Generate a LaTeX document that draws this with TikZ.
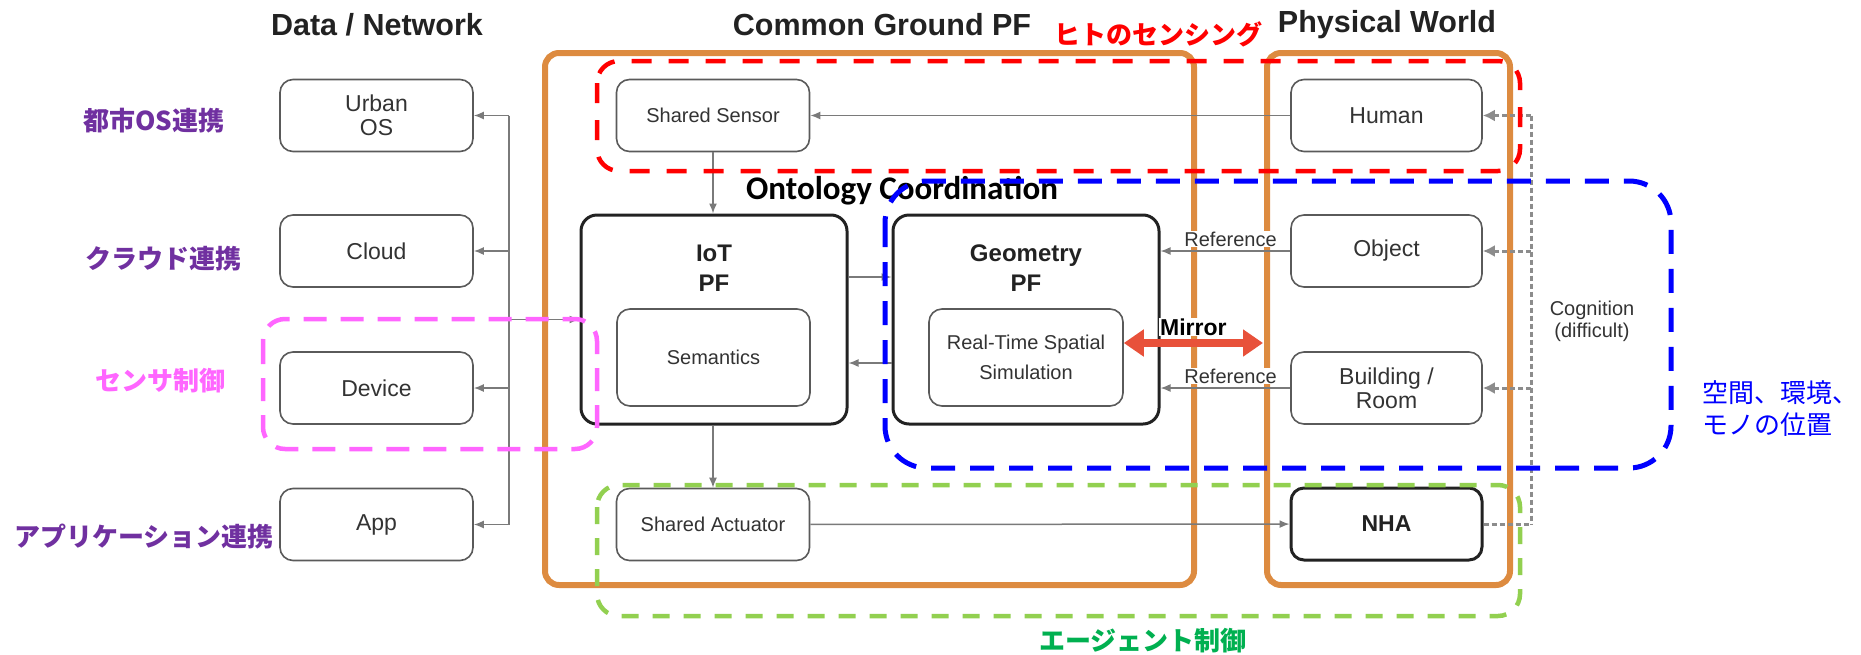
\documentclass[tikz,border=0pt]{standalone}
\usepackage{fontspec}
\setmainfont{Liberation Sans}
\newfontfamily\jpfont{Noto Sans CJK JP}
\newfontfamily\calfont{Carlito}
\usetikzlibrary{arrows.meta}
\newcommand\fsz[2]{\fontsize{#1pt}{#2pt}\selectfont}

\definecolor{boxline}{HTML}{5A5A5A}
\definecolor{boxtext}{HTML}{333333}
\definecolor{pfline}{HTML}{222222}
\definecolor{headtext}{HTML}{222222}
\definecolor{arrgray}{HTML}{7A7A7A}
\definecolor{cogray}{HTML}{8C8C8C}
\definecolor{cgorange}{HTML}{DD8B40}
\definecolor{mirred}{HTML}{E8513A}
\definecolor{grpred}{HTML}{FF0000}
\definecolor{grpblue}{HTML}{0000FF}
\definecolor{grpgreen}{HTML}{92D050}
\definecolor{grppink}{HTML}{FF66FF}
\definecolor{lblpurple}{HTML}{7030A0}
\definecolor{lblgreen}{HTML}{00B050}

\begin{document}
\begin{tikzpicture}[x=1pt,y=-1pt,
  box/.style={draw=boxline, line width=1.6pt, rounded corners=13pt, fill=white,
    text=boxtext, align=center, inner sep=0pt, minimum width=193pt,
    minimum height=72pt, font=\fsz{23}{24}},
  sbox/.style={box, font=\fsz{20}{30}},
  pfbox/.style={draw=pfline, line width=3pt, rounded corners=16pt, fill=white,
    inner sep=0pt, minimum width=266pt, minimum height=209pt},
  pftitle/.style={align=center, text=pfline, font=\bfseries\fsz{24}{30}, inner sep=0pt},
  nhabox/.style={box, draw=pfline, line width=3pt, text=pfline, font=\bfseries\fsz{23}{24}},
  head/.style={text=headtext, font=\bfseries\fsz{30.5}{32}, inner sep=0pt},
  arr/.style={draw=arrgray, line width=1.5pt, -{Latex[length=10pt,width=8pt]}},
  busline/.style={draw=arrgray, line width=1.5pt},
  cog/.style={draw=cogray, line width=3pt, dash pattern=on 5pt off 3pt},
  cogarr/.style={cog, -{Latex[length=12pt,width=12pt]}},
  reflbl/.style={fill=white, inner sep=1pt, text=boxtext, font=\fsz{20}{22}},
  mirror/.style={draw=mirred, line width=8pt,
    {Triangle[length=20pt,width=26pt]}-{Triangle[length=20pt,width=26pt]}},
  mirlbl/.style={fill=white, inner sep=1pt, text=black, font=\bfseries\fsz{23}{24}},
  orangebox/.style={draw=cgorange, line width=6pt, rounded corners=14pt},
  grp/.style={line width=4.5pt, rounded corners=22pt},
  jplbl/.style={inner sep=0pt, font=\jpfont\bfseries\fsz{26}{28}},
]
\useasboundingbox (0,0) rectangle (1861,654);

% column headings
\node[head] (hdata) at (377,25) {Data / Network};
\node[head] (hcg) at (882,25) {Common Ground PF};
\node[head] (hpw) at (1387,25) {Physical World};

% platform frames
\draw[orangebox] (545,53) rectangle (1194,585);
\draw[orangebox] (1267,53) rectangle (1510,585);

% data / network side
\node[box] (urban) at (376.5,115.5) {Urban\\OS};
\node[box] (cloud) at (376.5,251) {Cloud};
\node[box] (device) at (376.5,388) {Device};
\node[box] (app) at (376.5,524.5) {App};

% common ground platform
\node[sbox] (sensor) at (713,115.5) {Shared Sensor};
\node[sbox] (actuator) at (713,524.5) {Shared Actuator};
\node[pfbox] (iot) at (714,319.5) {};
\node[pftitle] (iott) at (714,268) {IoT\\PF};
\node[sbox, minimum height=97pt] (sem) at (713.5,357.5) {Semantics};
\node[pfbox] (geo) at (1026,319.5) {};
\node[pftitle] (geot) at (1026,268) {Geometry\\PF};
\node[sbox, minimum width=194pt, minimum height=97pt] (rt) at (1026,357.5) {Real-Time Spatial\\Simulation};
\node[inner sep=0pt, font=\calfont\bfseries\fsz{33}{34}] (onto) at (902,191) {Ontology Coordination};

% physical world
\node[box, minimum width=191pt] (human) at (1386.5,115.5) {Human};
\node[box, minimum width=191pt] (object) at (1386.5,251) {Object};
\node[box, minimum width=191pt] (building) at (1386.5,388) {Building /\\Room};
\node[nhabox, minimum width=191pt] (nha) at (1386.5,524) {NHA};

% data bus on the left
\coordinate (bus1) at (509,115.5);
\coordinate (bus2) at (509,251);
\coordinate (bus3) at (509,319.5);
\coordinate (bus4) at (509,388);
\coordinate (bus5) at (509,524.5);
\draw[busline] (bus1) -- (bus5);
\draw[arr] (bus1) -- (urban);
\draw[arr] (bus2) -- (cloud);
\draw[arr] (bus4) -- (device);
\draw[arr] (bus5) -- (app);
\draw[arr] (bus3) -- (iot);

% platform flows
\draw[arr] (human) -- (sensor);
\draw[arr] (sensor.south) -- (sensor.south |- iot.north);
\draw[arr] ([yshift=42.5pt]iot.east) -- ([yshift=42.5pt]geo.west);
\draw[arr] ([yshift=-43.5pt]geo.west) -- ([yshift=-43.5pt]iot.east);
\draw[arr] (actuator.north |- iot.south) -- (actuator.north);
\draw[arr] (actuator) -- (nha);
\draw[arr] (object.west) -- (object.west -| geo.east)
  node[reflbl, pos=0.46, yshift=12pt] {Reference};
\draw[arr] (building.west) -- (building.west -| geo.east)
  node[reflbl, pos=0.46, yshift=12pt] {Reference};

% mirror link
\coordinate (mirend) at (1263,343);
\draw[mirror] ([yshift=14.5pt]rt.east) -- (mirend)
  node[mirlbl, midway, yshift=16pt] {Mirror};

% cognition feedback
\coordinate (cog1) at (1531,115.5);
\coordinate (cog2) at (1531,251);
\coordinate (cog3) at (1531,388);
\coordinate (cog4) at (1531,524);
\draw[cog] (cog1) -- (cog4);
\draw[cogarr] (cog1) -- (human);
\draw[cogarr] (cog2) -- (object);
\draw[cogarr] (cog3) -- (building);
\draw[cog] (nha) -- (cog4);
\node[align=center, text=boxtext, font=\fsz{20}{22}, inner sep=0pt] (cogt) at (1592,321) {Cognition\\(difficult)};

% highlighted groups
\draw[grp, draw=grpred, dash pattern=on 20pt off 17pt] (597,61) rectangle (1520,171);
\draw[grp, draw=grpblue, line width=5pt, rounded corners=42pt, dash pattern=on 24pt off 15pt] (885,181) rectangle (1671,468);
\draw[grp, draw=grpgreen, dash pattern=on 17pt off 14pt] (597,485) rectangle (1520,616);
\draw[grp, draw=grppink, dash pattern=on 23pt off 14pt] (263,319) rectangle (597,449);

% group captions
\node[jplbl, text=lblpurple] (jurban) at (154,121) {都市OS連携};
\node[jplbl, text=lblpurple] (jcloud) at (163,259) {クラウド連携};
\node[jplbl, text=grppink] (jdevice) at (160,381) {センサ制御};
\node[jplbl, text=lblpurple] (japp) at (144,537) {アプリケーション連携};
\node[jplbl, text=grpred] (jsense) at (1158,34) {ヒトのセンシング};
\node[jplbl, text=lblgreen] (jagent) at (1143,641) {エージェント制御};
\node[inner sep=0pt, anchor=west, align=left, text=grpblue, font=\jpfont\fsz{26}{32}] (jspace) at (1702,409) {空間、環境、\\モノの位置};
\end{tikzpicture}
\end{document}
